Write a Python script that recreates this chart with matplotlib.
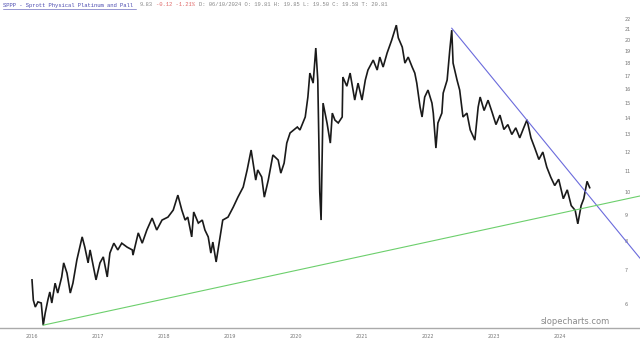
import matplotlib
matplotlib.use("Agg")
import matplotlib.pyplot as plt

# price path (decimal year, price)
years = [
    2016.00, 2016.02, 2016.05, 2016.09, 2016.14, 2016.17, 2016.20, 2016.24, 2016.27, 2016.30,
    2016.35, 2016.39, 2016.45, 2016.48, 2016.53, 2016.58, 2016.62, 2016.68, 2016.76, 2016.80,
    2016.85, 2016.88, 2016.91, 2016.97, 2017.03, 2017.08, 2017.14, 2017.18, 2017.24, 2017.30,
    2017.36, 2017.44, 2017.52, 2017.53, 2017.61, 2017.67, 2017.74, 2017.82, 2017.89, 2017.97,
    2018.06, 2018.14, 2018.21, 2018.27, 2018.32, 2018.36, 2018.42, 2018.45, 2018.52, 2018.58,
    2018.62, 2018.67, 2018.71, 2018.74, 2018.79, 2018.85, 2018.89, 2018.97, 2019.05, 2019.12,
    2019.20, 2019.26, 2019.32, 2019.35, 2019.39, 2019.42, 2019.48, 2019.52, 2019.58, 2019.65,
    2019.73, 2019.77, 2019.82, 2019.86, 2019.91, 2020.02, 2020.06, 2020.14, 2020.18, 2020.21,
    2020.26, 2020.30, 2020.33, 2020.36, 2020.38, 2020.41, 2020.47, 2020.52, 2020.55, 2020.59,
    2020.64, 2020.70, 2020.71, 2020.77, 2020.82, 2020.89, 2020.94, 2021.00, 2021.05, 2021.09,
    2021.17, 2021.23, 2021.27, 2021.32, 2021.38, 2021.45, 2021.52, 2021.55, 2021.61, 2021.65,
    2021.70, 2021.76, 2021.80, 2021.83, 2021.88, 2021.91, 2021.95, 2022.00, 2022.06, 2022.08,
    2022.12, 2022.15, 2022.21, 2022.23, 2022.29, 2022.33, 2022.36, 2022.38, 2022.44, 2022.48,
    2022.53, 2022.59, 2022.64, 2022.71, 2022.76, 2022.79, 2022.85, 2022.91, 2022.97, 2023.03,
    2023.09, 2023.15, 2023.21, 2023.27, 2023.33, 2023.39, 2023.45, 2023.50, 2023.56, 2023.62,
    2023.68, 2023.74, 2023.80, 2023.86, 2023.92, 2023.98, 2024.05, 2024.11, 2024.17, 2024.23,
    2024.27, 2024.32, 2024.36, 2024.41, 2024.45,
]
prices = [
    6.70, 6.11, 5.92, 6.06, 6.03, 5.45, 5.76, 6.11, 6.34, 6.03,
    6.60, 6.31, 6.79, 7.24, 6.91, 6.31, 6.60, 7.34, 8.15, 7.78,
    7.24, 7.68, 7.34, 6.70, 7.24, 7.44, 6.79, 7.57, 7.92, 7.68,
    7.92, 7.78, 7.68, 7.50, 8.30, 7.92, 8.41, 8.88, 8.41, 8.80,
    8.92, 9.21, 9.86, 9.21, 8.80, 8.92, 8.15, 9.13, 8.68, 8.80,
    8.41, 8.15, 7.57, 7.96, 7.27, 8.15, 8.80, 8.92, 9.34, 9.77,
    10.23, 11.06, 12.11, 11.41, 10.56, 11.06, 10.71, 9.77, 10.56, 11.84,
    11.57, 10.90, 11.41, 12.50, 13.09, 13.45, 13.27, 14.08, 15.42, 17.20,
    16.43, 19.28, 16.66, 10.00, 8.80, 15.00, 13.70, 12.50, 14.33, 13.88,
    13.70, 14.08, 16.89, 16.20, 17.20, 15.21, 16.43, 15.21, 16.66, 17.44,
    18.25, 17.44, 18.50, 17.68, 18.84, 19.99, 21.40, 20.20, 19.36, 18.00,
    18.50, 17.68, 17.20, 16.43, 14.73, 14.08, 15.42, 15.92, 15.00, 14.33,
    12.22, 13.70, 14.33, 15.70, 16.66, 19.10, 20.92, 18.00, 16.66, 15.92,
    14.08, 14.33, 13.27, 12.67, 14.73, 15.42, 14.50, 15.20, 14.40, 13.60,
    14.20, 13.30, 13.60, 13.00, 13.40, 12.80, 13.40, 13.90, 12.80, 12.20,
    11.60, 12.00, 11.20, 10.70, 10.30, 10.60, 9.70, 10.10, 9.40, 9.20,
    8.65, 9.40, 9.70, 10.50, 10.20,
]

# trend lines drawn on the chart
blue_x = [2022.36, 2025.21]
blue_y = [21.1, 7.40]
green_x = [2016.17, 2025.21]
green_y = [5.45, 9.82]

year_ticks = [2016, 2017, 2018, 2019, 2020, 2021, 2022, 2023, 2024]
price_ticks = list(range(6, 23))

fig = plt.figure(figsize=(6.4, 3.43), dpi=100)
ax = fig.add_axes([0, 15 / 343, 1, 328 / 343])

ax.plot(years, prices, color="#1a1a1a", lw=1.2, solid_joinstyle="miter")
ax.plot(blue_x, blue_y, color="#6b6bdc", lw=0.8)
ax.plot(green_x, green_y, color="#6ccf6c", lw=0.8)

ax.set_yscale("log")
ax.set_ylim(5.38, 24.0)
ax.set_xlim(2016 - 32 / 66, 2016 + 608 / 66)

ax.yaxis.tick_right()
ax.set_yticks(price_ticks)
ax.set_yticklabels([str(p) for p in price_ticks])
ax.yaxis.set_minor_locator(plt.NullLocator())
ax.tick_params(axis="y", length=0, pad=-11, labelsize=3.5, labelcolor="#777777")

ax.set_xticks(year_ticks)
ax.set_xticklabels([str(y) for y in year_ticks])
ax.tick_params(axis="x", length=0, pad=4, labelsize=3.5, labelcolor="#777777")

for side in ["top", "left", "right"]:
    ax.spines[side].set_visible(False)
ax.spines["bottom"].set_color("#aaaaaa")
ax.spines["bottom"].set_linewidth(1.0)

# header line, monospace, coloured pieces
cw = 3.33 / 640
ty = 1 - 5 / 328
name = "SPPP - Sprott Physical Platinum and Pall"
parts = [
    (name, "#4b4bb0", 0),
    ("9.83", "#888888", 41),
    ("-0.12 -1.21%", "#e06a6a", 46),
    ("D: 06/10/2024 O: 19.81 H: 19.85 L: 19.50 C: 19.58 T: 20.81", "#888888", 59),
]
for txt, col, c in parts:
    ax.text(3 / 640 + c * cw, ty, txt, transform=ax.transAxes, family="Liberation Mono",
            fontsize=4, color=col, va="center", ha="left")
# underline under the linked name
uy = 1 - 8.5 / 328
ax.plot([3 / 640, 3 / 640 + len(name) * cw], [uy, uy], transform=ax.transAxes,
        color="#4b4bb0", lw=0.4)

ax.text(575 / 640, 1 - 322 / 328, "slopecharts.com", transform=ax.transAxes,
        fontsize=6, color="#8a8a8a", ha="center", va="center")

fig.savefig("out.png", dpi=100)
